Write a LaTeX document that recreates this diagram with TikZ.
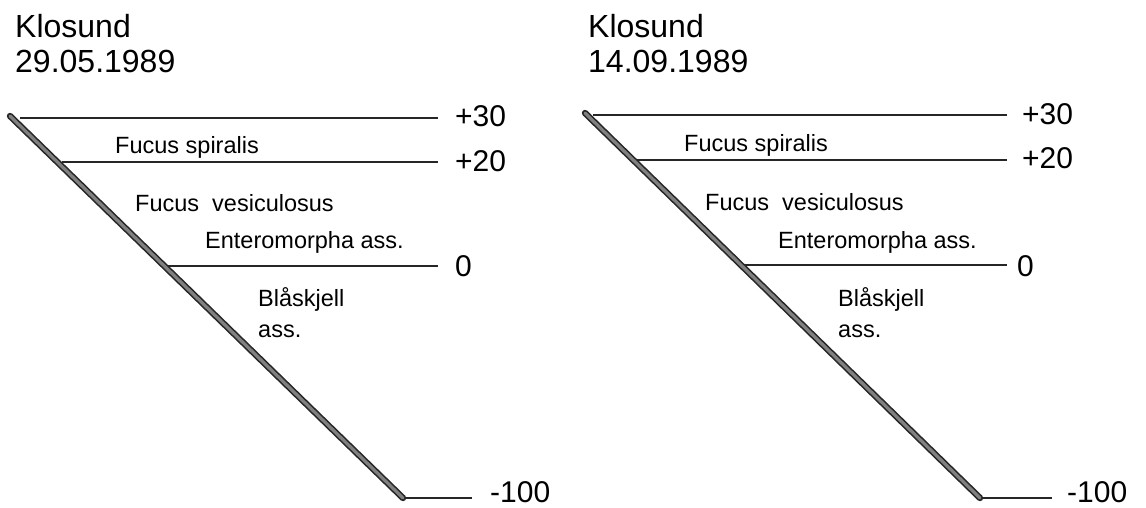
\documentclass[tikz,border=0pt]{standalone}
\usepackage{fontspec}
\setmainfont{Liberation Sans}
\begin{document}
\begin{tikzpicture}[x=1pt,y=-1pt,
  title/.style={anchor=base west,inner sep=0pt,font=\fontsize{32}{38}\selectfont},
  level/.style={anchor=base west,inner sep=0pt,font=\fontsize{30}{36}\selectfont},
  zone/.style={anchor=base west,inner sep=0pt,font=\fontsize{23.5}{28}\selectfont},
  hline/.style={draw=black!85,line width=1.8pt},
  shore/.style={draw=black!85,line width=1.6pt,double=black!50,double distance=3.2pt,line cap=round,line join=round}]
\useasboundingbox (0,0) rectangle (1146,507);
% ---------- left panel ----------
\node[title] (lt1) at (15,37) {Klosund};
\node[title] (lt2) at (15,72) {29.05.1989};
\coordinate (lA) at (10,116);
\coordinate (lB) at (403,498);
\coordinate (l30a) at (20,118);  \coordinate (l30b) at (438,118);
\coordinate (l20a) at (62,162);  \coordinate (l20b) at (438,162);
\coordinate (l0a) at (168,266);  \coordinate (l0b) at (438,266);
\coordinate (lm100b) at (472,498);
\draw[hline] (l30a) -- (l30b);
\draw[hline] (l20a) -- (l20b);
\draw[hline] (l0a) -- (l0b);
\draw[hline] (lB) -- (lm100b);
\draw[shore] (lA) -- (lB);
\node[level] (lp30) at (455,126) {+30};
\node[level] (lp20) at (455,171) {+20};
\node[level] (lp0) at (455,276) {0};
\node[level] (lm100) at (490,502) {-100};
\node[zone] (lfs) at (115,153) {Fucus spiralis};
\node[zone] (lfv) at (135,211) {Fucus\ \ vesiculosus};
\node[zone] (lea) at (205,248) {Enteromorpha ass.};
\node[zone] (lbs) at (258,306) {Blåskjell};
\node[zone] (lba) at (258,337) {ass.};
% ---------- right panel ----------
\node[title] (rt1) at (588,37) {Klosund};
\node[title] (rt2) at (588,72) {14.09.1989};
\coordinate (rA) at (585,113);
\coordinate (rB) at (980,498);
\coordinate (r30a) at (593,115);  \coordinate (r30b) at (1007,115);
\coordinate (r20a) at (635,160);  \coordinate (r20b) at (1007,160);
\coordinate (r0a) at (742,265);   \coordinate (r0b) at (1007,265);
\coordinate (rm100b) at (1052,498);
\draw[hline] (r30a) -- (r30b);
\draw[hline] (r20a) -- (r20b);
\draw[hline] (r0a) -- (r0b);
\draw[hline] (rB) -- (rm100b);
\draw[shore] (rA) -- (rB);
\node[level] (rp30) at (1022,124) {+30};
\node[level] (rp20) at (1022,168) {+20};
\node[level] (rp0) at (1017,276) {0};
\node[level] (rm100) at (1067,502) {-100};
\node[zone] (rfs) at (684,151) {Fucus spiralis};
\node[zone] (rfv) at (705,210) {Fucus\ \ vesiculosus};
\node[zone] (rea) at (778,248) {Enteromorpha ass.};
\node[zone] (rbs) at (838,306) {Blåskjell};
\node[zone] (rba) at (838,337) {ass.};
\end{tikzpicture}
\end{document}
